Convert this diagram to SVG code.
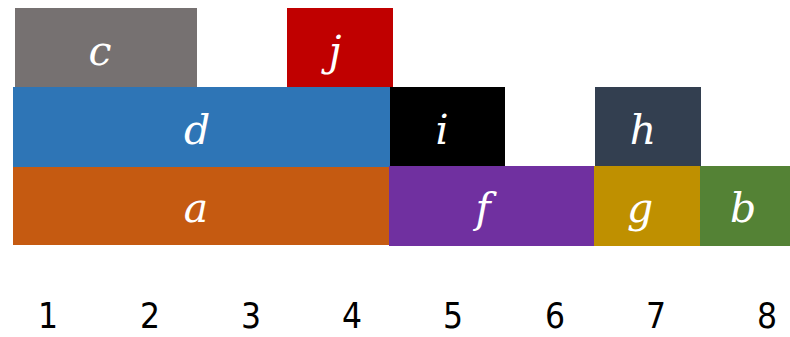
<svg xmlns="http://www.w3.org/2000/svg" width="790" height="337" viewBox="0 0 790 337">
<style>
.l{font-family:"DejaVu Serif","Liberation Serif",serif;font-style:italic;font-size:41px;fill:#fff;text-anchor:middle}
.n{font-family:"DejaVu Sans","Liberation Sans",sans-serif;font-stretch:condensed;font-size:35px;fill:#000;text-anchor:middle}
</style>
<rect width="790" height="337" fill="#fff"/>
<g id="c"><rect x="15" y="8" width="182" height="79" fill="#767171"/><text class="l" x="100" y="65">c</text></g>
<g id="j"><rect x="287" y="8" width="106" height="79" fill="#C00000"/><text class="l" x="335" y="65">j</text></g>
<g id="d"><rect x="13" y="87" width="377" height="80" fill="#2E75B6"/><text class="l" x="197" y="144">d</text></g>
<g id="i"><rect x="390" y="87" width="115" height="80" fill="#000"/><text class="l" x="442" y="144">i</text></g>
<g id="h"><rect x="595" y="87" width="106" height="79" fill="#333F50"/><text class="l" x="643" y="144">h</text></g>
<g id="a"><rect x="13" y="167" width="376" height="78" fill="#C55A11"/><text class="l" x="196" y="222">a</text></g>
<g id="f"><rect x="389" y="166" width="205" height="80" fill="#7030A0"/><text class="l" x="483" y="222">f</text></g>
<g id="g"><rect x="594" y="166" width="106" height="80" fill="#BF9000"/><text class="l" x="640" y="222">g</text></g>
<g id="b"><rect x="700" y="166" width="90" height="80" fill="#548235"/><text class="l" x="743" y="222">b</text></g>
<g id="axis">
<text class="n" x="48" y="328">1</text>
<text class="n" x="150" y="328">2</text>
<text class="n" x="251" y="328">3</text>
<text class="n" x="352" y="328">4</text>
<text class="n" x="453" y="328">5</text>
<text class="n" x="555" y="328">6</text>
<text class="n" x="656" y="328">7</text>
<text class="n" x="767" y="328">8</text>
</g>
</svg>
